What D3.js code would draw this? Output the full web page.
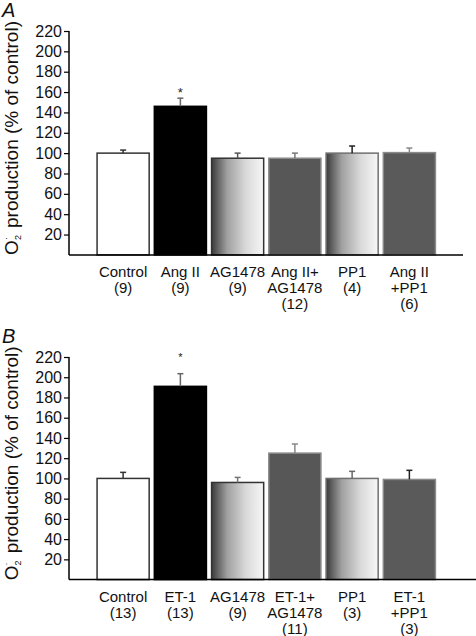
<!DOCTYPE html>
<html><head><meta charset="utf-8">
<script src="https://cdn.jsdelivr.net/npm/d3@7"></script>
<style>
html,body{margin:0;padding:0;background:#fff;}
svg{display:block;font-family:"Liberation Sans",Arial,sans-serif;}
</style></head>
<body>
<svg id="chart" width="476" height="636"></svg>
<script>
// ---- data ----
const categoriesA = [["Control","(9)"],["Ang II","(9)"],["AG1478","(9)"],["Ang II+","AG1478","(12)"],["PP1","(4)"],["Ang II","+PP1","(6)"]];
const valuesA = [100, 146, 95, 95, 100, 100.5];
const errorsA = [3, 8, 5, 5, 7, 4.5];
const signifA = [false, true, false, false, false, false];

const categoriesB = [["Control","(13)"],["ET-1","(13)"],["AG1478","(9)"],["ET-1+","AG1478","(11)"],["PP1","(3)"],["ET-1","+PP1","(3)"]];
const valuesB = [100, 191, 96, 125, 100, 99];
const errorsB = [6, 12.5, 5, 9, 7, 9];
const signifB = [false, true, false, false, false, false];

const yTicks = [20,40,60,80,100,120,140,160,180,200,220];

// ---- styles (separate from data) ----
const fillsA = ["#ffffff","#000000","url(#grad)","#575757","url(#grad)","#5a5a5a"];
const strokesA = ["#333333","#000000","#333333","#8a8a8a","#707070","#8a8a8a"];
const errColA = ["#333333","#666666","#555555","#777777","#222222","#888888"];
const fillsB = ["#ffffff","#000000","url(#grad)","#575757","url(#grad)","#5a5a5a"];
const strokesB = ["#333333","#000000","#333333","#8a8a8a","#707070","#8a8a8a"];
const errColB = ["#333333","#666666","#777777","#888888","#666666","#222222"];

const svg = d3.select("#chart");
const defs = svg.append("defs");
const g = defs.append("linearGradient").attr("id","grad").attr("x1","0").attr("x2","1").attr("y1","0").attr("y2","0");
g.append("stop").attr("offset","0").attr("stop-color","#3a3a3a");
g.append("stop").attr("offset","0.3").attr("stop-color","#a0a0a0");
g.append("stop").attr("offset","0.65").attr("stop-color","#d8d8d8");
g.append("stop").attr("offset","1").attr("stop-color","#f7f7f7");

const axisX0 = 69;

function panel(opts){
  const {letter, letterY, yTop, yBase, xEnd, cats, vals, errs, sig, fills, strokes, errCols, starSize, starGap} = opts;
  const x = d3.scaleBand().domain(d3.range(cats.length)).range([94.5, 438]).paddingInner(0.09).paddingOuter(0.045);
  const y = d3.scaleLinear().domain([0,220]).range([yBase, yTop]);
  const root = svg.append("g");

  // bars
  root.selectAll("rect.bar").data(vals).join("rect")
    .attr("x", (d,i)=>x(i)).attr("width", x.bandwidth())
    .attr("y", d=>y(d)).attr("height", d=>y(0)-y(d))
    .attr("fill", (d,i)=>fills[i]).attr("stroke",(d,i)=>strokes[i]).attr("stroke-width",1.5);

  // error bars
  const eb = root.selectAll("g.err").data(vals).join("g");
  eb.append("line")
    .attr("x1",(d,i)=>x(i)+x.bandwidth()/2).attr("x2",(d,i)=>x(i)+x.bandwidth()/2)
    .attr("y1",d=>y(d)).attr("y2",(d,i)=>y(d+errs[i]))
    .attr("stroke",(d,i)=>errCols[i]).attr("stroke-width",1.5);
  eb.append("line")
    .attr("x1",(d,i)=>x(i)+x.bandwidth()/2-3).attr("x2",(d,i)=>x(i)+x.bandwidth()/2+3)
    .attr("y1",(d,i)=>y(d+errs[i])).attr("y2",(d,i)=>y(d+errs[i]))
    .attr("stroke",(d,i)=>errCols[i]).attr("stroke-width",1.5);

  // significance stars
  root.selectAll("text.star").data(vals.map((d,i)=>({d,i})).filter(o=>sig[o.i])).join("text")
    .attr("x",o=>x(o.i)+x.bandwidth()/2).attr("y",o=>y(o.d+errs[o.i])-starGap)
    .attr("text-anchor","middle").attr("font-size",starSize).attr("fill","#222").text("*");

  // y axis
  const ya = d3.axisLeft(y).tickValues(yTicks).tickSize(5).tickSizeOuter(0).tickPadding(2);
  const yg = root.append("g").attr("transform",`translate(${axisX0},0)`).call(ya);
  yg.select(".domain").attr("stroke","#000").attr("stroke-width",1.5)
    .attr("d",`M0,${y(0)}V${y(220)}`);
  yg.selectAll(".tick line").attr("stroke","#000").attr("stroke-width",1.2);
  yg.selectAll(".tick text").attr("font-size",16).attr("fill","#111")
    .attr("font-family",'"Liberation Sans",Arial,sans-serif');

  // x axis line
  root.append("line").attr("x1",axisX0).attr("x2",xEnd).attr("y1",y(0)).attr("y2",y(0))
    .attr("stroke","#000").attr("stroke-width",1.5);

  // x labels
  cats.forEach((lines,i)=>{
    const t = root.append("text").attr("text-anchor","middle").attr("font-size",15).attr("fill","#111");
    lines.forEach((s,j)=>{
      t.append("tspan").attr("x",x(i)+x.bandwidth()/2).attr("y",y(0)+22+j*16).text(s);
    });
  });

  // y title
  const cy = (y(0)+y(220))/2 - 5;
  const tt = root.append("text").attr("transform",`translate(18,${cy}) rotate(-90)`)
    .attr("text-anchor","middle").attr("font-size",19).attr("fill","#111");
  tt.append("tspan").text("O");
  tt.append("tspan").attr("font-size",9).attr("dy",3).text("2");
  tt.append("tspan").attr("font-size",9).attr("dy",-12).attr("dx",-5).text("·");
  tt.append("tspan").attr("dy",9).text("\u2009 production (% of control)");

  // panel letter
  root.append("text").attr("x",2).attr("y",letterY).attr("font-size",20).attr("font-style","italic")
    .attr("fill","#111").text(letter);
}

panel({letter:"A", letterY:16.5, yTop:31, yBase:254.9, xEnd:463, cats:categoriesA, vals:valuesA, errs:errorsA, sig:signifA,
  fills:fillsA, strokes:strokesA, errCols:errColA, starSize:13, starGap:1});
panel({letter:"B", letterY:342.7, yTop:357, yBase:579.6, xEnd:476, cats:categoriesB, vals:valuesB, errs:errorsB, sig:signifB,
  fills:fillsB, strokes:strokesB, errCols:errColB, starSize:11, starGap:13});
</script>
</body></html>
